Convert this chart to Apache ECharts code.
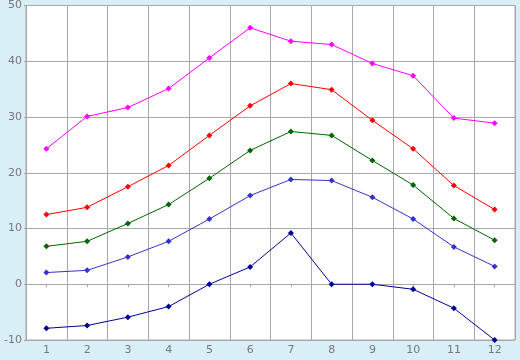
<!DOCTYPE html>
<html><head><meta charset="utf-8">
<script src="https://cdn.jsdelivr.net/npm/echarts@6/dist/echarts.min.js"></script>
<style>html,body{margin:0;padding:0;background:#d9eff7;}#c{width:520px;height:360px;}</style>
</head><body><div id="c"></div>
<script>
var categories = ['1','2','3','4','5','6','7','8','9','10','11','12'];
var magentaValues = [24.3, 30.1, 31.7, 35.1, 40.6, 46.0, 43.6, 43.0, 39.6, 37.4, 29.8, 28.9];
var redValues = [12.5, 13.8, 17.5, 21.3, 26.7, 32.0, 36.0, 34.9, 29.4, 24.3, 17.7, 13.4];
var greenValues = [6.8, 7.7, 10.9, 14.3, 19.0, 24.0, 27.4, 26.7, 22.2, 17.8, 11.8, 7.9];
var blueValues = [2.1, 2.5, 4.9, 7.7, 11.7, 15.9, 18.8, 18.6, 15.6, 11.7, 6.7, 3.2];
var navyValues = [-7.9, -7.4, -5.9, -4.0, 0.0, 3.1, 9.2, 0.0, 0.0, -0.9, -4.3, -10.0];
var yTicks = { min: -10, max: 50, step: 10 };

function mk(data, color) {
  return {
    type: 'line', data: data, symbol: 'diamond', symbolSize: 6,
    lineStyle: { color: color, width: 1 }, itemStyle: { color: color },
    animation: false
  };
}
var chart = echarts.init(document.getElementById('c'), null, { renderer: 'canvas' });
chart.setOption({
  backgroundColor: '#d9eff7',
  animation: false,
  grid: { left: 26, top: 5, right: 5, bottom: 20, show: true, backgroundColor: '#ffffff', borderColor: '#a8a8a8', borderWidth: 1 },
  xAxis: {
    type: 'category', data: categories, boundaryGap: true,
    axisLine: { lineStyle: { color: '#a8a8a8' } },
    axisTick: { show: true, alignWithLabel: true, length: 3, lineStyle: { color: '#a8a8a8' } },
    axisLabel: { color: '#777777', fontFamily: 'DejaVu Sans', fontSize: 11, margin: 5 },
    splitLine: { show: true, lineStyle: { color: '#a8a8a8', width: 1 } }
  },
  yAxis: {
    type: 'value', min: yTicks.min, max: yTicks.max, interval: yTicks.step,
    axisLine: { show: true, lineStyle: { color: '#a8a8a8' } },
    axisTick: { show: true, length: 2, lineStyle: { color: '#a8a8a8' } },
    axisLabel: { color: '#777777', fontFamily: 'DejaVu Sans', fontSize: 11, margin: 4 },
    splitLine: { show: true, lineStyle: { color: '#a8a8a8', width: 1 } }
  },
  series: [
    mk(magentaValues, '#ff00ff'),
    mk(redValues, '#ff0000'),
    mk(greenValues, '#006600'),
    mk(blueValues, '#3333cc'),
    mk(navyValues, '#000099')
  ]
});
</script>
</body></html>
